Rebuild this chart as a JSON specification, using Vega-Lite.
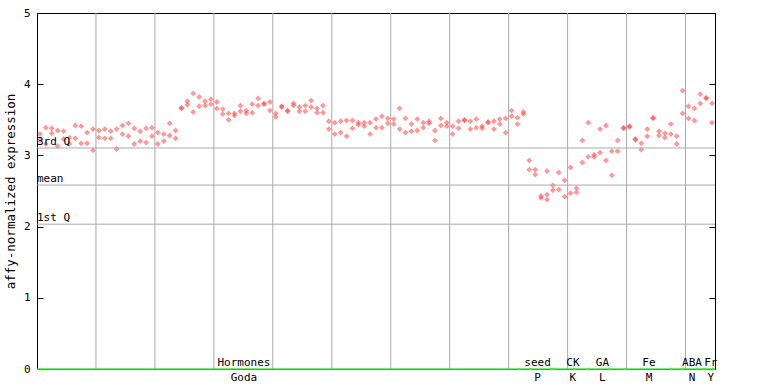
{
  "$schema": "https://vega.github.io/schema/vega-lite/v6.json",
  "width": 678,
  "height": 356,
  "autosize": "none",
  "padding": {"left": 37, "top": 13, "right": 53, "bottom": 15},
  "config": {
    "view": {"stroke": "black", "strokeWidth": 1},
    "font": "DejaVu Sans Mono",
    "axis": {"labelFont": "DejaVu Sans Mono", "labelFontSize": 11, "labelColor": "black", "titleFont": "DejaVu Sans Mono", "titleFontSize": 12.5, "titleFontWeight": "normal", "titleColor": "black", "domainColor": "black", "tickColor": "black"}
  },
  "datasets": {
    "vgrid": [{"g": 10}, {"g": 20}, {"g": 30}, {"g": 40}, {"g": 50}, {"g": 60}, {"g": 70}, {"g": 80}, {"g": 90}, {"g": 100}, {"g": 110}],
    "quart": [{"q": "3rd Q", "v": 3.104}, {"q": "mean", "v": 2.583}, {"q": "1st Q", "v": 2.034}],
    "groups": [
      {"g": "Hormones", "c": "Goda", "a": 0.4, "b": 81.9, "lx": 35.1},
      {"g": "seed", "c": "P", "a": 83.6, "b": 87.3, "lx": 84.9},
      {"g": "CK", "c": "K", "a": 87.6, "b": 91.2, "lx": 90.9},
      {"g": "GA", "c": "L", "a": 93.3, "b": 97.2, "lx": 95.9},
      {"g": "Fe", "c": "M", "a": 99.7, "b": 107.7, "lx": 103.8},
      {"g": "ABA", "c": "N", "a": 109.4, "b": 112.1, "lx": 111.1},
      {"g": "Fr", "c": "Y", "a": 113.1, "b": 114.8, "lx": 114.3}
    ],
    "baseline": [{"a": 0, "b": 115}],
    "pts": [
      {"s": 0.5, "v": 3.30}, {"s": 0.5, "v": 3.21},
      {"s": 1.5, "v": 3.39}, {"s": 1.5, "v": 3.16},
      {"s": 2.5, "v": 3.38}, {"s": 2.5, "v": 3.31},
      {"s": 3.5, "v": 3.35}, {"s": 3.5, "v": 3.13},
      {"s": 4.5, "v": 3.34}, {"s": 4.5, "v": 3.23},
      {"s": 5.5, "v": 3.25}, {"s": 5.5, "v": 3.16},
      {"s": 6.5, "v": 3.42}, {"s": 6.5, "v": 3.24},
      {"s": 7.5, "v": 3.41}, {"s": 7.5, "v": 3.17},
      {"s": 8.5, "v": 3.32}, {"s": 8.5, "v": 3.17},
      {"s": 9.5, "v": 3.37}, {"s": 9.5, "v": 3.07},
      {"s": 10.5, "v": 3.35}, {"s": 10.5, "v": 3.25},
      {"s": 11.5, "v": 3.37}, {"s": 11.5, "v": 3.24},
      {"s": 12.5, "v": 3.34}, {"s": 12.5, "v": 3.24},
      {"s": 13.5, "v": 3.37}, {"s": 13.5, "v": 3.09},
      {"s": 14.5, "v": 3.42}, {"s": 14.5, "v": 3.30},
      {"s": 15.5, "v": 3.45}, {"s": 15.5, "v": 3.27},
      {"s": 16.5, "v": 3.38}, {"s": 16.5, "v": 3.16},
      {"s": 17.5, "v": 3.34}, {"s": 17.5, "v": 3.20},
      {"s": 18.5, "v": 3.38}, {"s": 18.5, "v": 3.18},
      {"s": 19.5, "v": 3.39}, {"s": 19.5, "v": 3.27},
      {"s": 20.5, "v": 3.32}, {"s": 20.5, "v": 3.16},
      {"s": 21.5, "v": 3.30}, {"s": 21.5, "v": 3.20},
      {"s": 22.5, "v": 3.45}, {"s": 22.5, "v": 3.28},
      {"s": 23.5, "v": 3.35}, {"s": 23.5, "v": 3.24},
      {"s": 24.5, "v": 3.67}, {"s": 24.5, "v": 3.66},
      {"s": 25.5, "v": 3.76}, {"s": 25.5, "v": 3.71},
      {"s": 26.5, "v": 3.87}, {"s": 26.5, "v": 3.61},
      {"s": 27.5, "v": 3.82}, {"s": 27.5, "v": 3.69},
      {"s": 28.5, "v": 3.76}, {"s": 28.5, "v": 3.70},
      {"s": 29.5, "v": 3.79}, {"s": 29.5, "v": 3.72},
      {"s": 30.5, "v": 3.75}, {"s": 30.5, "v": 3.66},
      {"s": 31.5, "v": 3.65}, {"s": 31.5, "v": 3.58},
      {"s": 32.5, "v": 3.59}, {"s": 32.5, "v": 3.50},
      {"s": 33.5, "v": 3.59}, {"s": 33.5, "v": 3.56},
      {"s": 34.5, "v": 3.70}, {"s": 34.5, "v": 3.62},
      {"s": 35.5, "v": 3.63}, {"s": 35.5, "v": 3.59},
      {"s": 36.5, "v": 3.72}, {"s": 36.5, "v": 3.60},
      {"s": 37.5, "v": 3.80}, {"s": 37.5, "v": 3.70},
      {"s": 38.5, "v": 3.73}, {"s": 38.5, "v": 3.72},
      {"s": 39.5, "v": 3.75}, {"s": 39.5, "v": 3.63},
      {"s": 40.5, "v": 3.59}, {"s": 40.5, "v": 3.54},
      {"s": 41.5, "v": 3.69}, {"s": 41.5, "v": 3.68},
      {"s": 42.5, "v": 3.63}, {"s": 42.5, "v": 3.62},
      {"s": 43.5, "v": 3.73}, {"s": 43.5, "v": 3.70},
      {"s": 44.5, "v": 3.68}, {"s": 44.5, "v": 3.62},
      {"s": 45.5, "v": 3.70}, {"s": 45.5, "v": 3.62},
      {"s": 46.5, "v": 3.77}, {"s": 46.5, "v": 3.68},
      {"s": 47.5, "v": 3.66}, {"s": 47.5, "v": 3.60},
      {"s": 48.5, "v": 3.70}, {"s": 48.5, "v": 3.60},
      {"s": 49.5, "v": 3.48}, {"s": 49.5, "v": 3.37},
      {"s": 50.5, "v": 3.46}, {"s": 50.5, "v": 3.30},
      {"s": 51.5, "v": 3.48}, {"s": 51.5, "v": 3.32},
      {"s": 52.5, "v": 3.49}, {"s": 52.5, "v": 3.27},
      {"s": 53.5, "v": 3.49}, {"s": 53.5, "v": 3.38},
      {"s": 54.5, "v": 3.46}, {"s": 54.5, "v": 3.43},
      {"s": 55.5, "v": 3.46}, {"s": 55.5, "v": 3.41},
      {"s": 56.5, "v": 3.46}, {"s": 56.5, "v": 3.30},
      {"s": 57.5, "v": 3.51}, {"s": 57.5, "v": 3.39},
      {"s": 58.5, "v": 3.55}, {"s": 58.5, "v": 3.39},
      {"s": 59.5, "v": 3.52}, {"s": 59.5, "v": 3.45},
      {"s": 60.5, "v": 3.51}, {"s": 60.5, "v": 3.44},
      {"s": 61.5, "v": 3.66}, {"s": 61.5, "v": 3.37},
      {"s": 62.5, "v": 3.52}, {"s": 62.5, "v": 3.32},
      {"s": 63.5, "v": 3.44}, {"s": 63.5, "v": 3.34},
      {"s": 64.5, "v": 3.51}, {"s": 64.5, "v": 3.35},
      {"s": 65.5, "v": 3.46}, {"s": 65.5, "v": 3.39},
      {"s": 66.5, "v": 3.48}, {"s": 66.5, "v": 3.45},
      {"s": 67.5, "v": 3.35}, {"s": 67.5, "v": 3.21},
      {"s": 68.5, "v": 3.52}, {"s": 68.5, "v": 3.42},
      {"s": 69.5, "v": 3.46}, {"s": 69.5, "v": 3.41},
      {"s": 70.5, "v": 3.41}, {"s": 70.5, "v": 3.30},
      {"s": 71.5, "v": 3.48}, {"s": 71.5, "v": 3.38},
      {"s": 72.5, "v": 3.50}, {"s": 72.5, "v": 3.49},
      {"s": 73.5, "v": 3.48}, {"s": 73.5, "v": 3.37},
      {"s": 74.5, "v": 3.51}, {"s": 74.5, "v": 3.39},
      {"s": 75.5, "v": 3.41}, {"s": 75.5, "v": 3.38},
      {"s": 76.5, "v": 3.47}, {"s": 76.5, "v": 3.46},
      {"s": 77.5, "v": 3.48}, {"s": 77.5, "v": 3.37},
      {"s": 78.5, "v": 3.51}, {"s": 78.5, "v": 3.44},
      {"s": 79.5, "v": 3.52}, {"s": 79.5, "v": 3.32},
      {"s": 80.5, "v": 3.63}, {"s": 80.5, "v": 3.55},
      {"s": 81.5, "v": 3.53}, {"s": 81.5, "v": 3.44},
      {"s": 82.5, "v": 3.61}, {"s": 82.5, "v": 3.58},
      {"s": 83.5, "v": 2.93}, {"s": 83.5, "v": 2.80},
      {"s": 84.5, "v": 2.80}, {"s": 84.5, "v": 2.73},
      {"s": 85.5, "v": 2.43}, {"s": 85.5, "v": 2.40},
      {"s": 86.5, "v": 2.78}, {"s": 86.5, "v": 2.45}, {"s": 86.5, "v": 2.38},
      {"s": 87.5, "v": 2.58}, {"s": 87.5, "v": 2.51},
      {"s": 88.5, "v": 2.76}, {"s": 88.5, "v": 2.52},
      {"s": 89.5, "v": 2.65}, {"s": 89.5, "v": 2.42},
      {"s": 90.5, "v": 2.83}, {"s": 90.5, "v": 2.47},
      {"s": 91.5, "v": 2.54}, {"s": 91.5, "v": 2.48},
      {"s": 92.5, "v": 3.21}, {"s": 92.5, "v": 2.90},
      {"s": 93.5, "v": 3.46}, {"s": 93.5, "v": 2.98},
      {"s": 94.5, "v": 3.01}, {"s": 94.5, "v": 2.98},
      {"s": 95.5, "v": 3.37}, {"s": 95.5, "v": 3.04},
      {"s": 96.5, "v": 3.42}, {"s": 96.5, "v": 2.93},
      {"s": 97.5, "v": 3.06}, {"s": 97.5, "v": 2.72},
      {"s": 98.5, "v": 3.21}, {"s": 98.5, "v": 3.06},
      {"s": 99.5, "v": 3.39}, {"s": 99.5, "v": 3.38},
      {"s": 100.5, "v": 3.41}, {"s": 100.5, "v": 3.40},
      {"s": 101.5, "v": 3.23}, {"s": 101.5, "v": 3.22},
      {"s": 102.5, "v": 3.17}, {"s": 102.5, "v": 3.08},
      {"s": 103.5, "v": 3.37}, {"s": 103.5, "v": 3.27},
      {"s": 104.5, "v": 3.53}, {"s": 104.5, "v": 3.52},
      {"s": 105.5, "v": 3.34}, {"s": 105.5, "v": 3.28},
      {"s": 106.5, "v": 3.31}, {"s": 106.5, "v": 3.25},
      {"s": 107.5, "v": 3.44}, {"s": 107.5, "v": 3.30},
      {"s": 108.5, "v": 3.27}, {"s": 108.5, "v": 3.16},
      {"s": 109.5, "v": 3.91}, {"s": 109.5, "v": 3.59},
      {"s": 110.5, "v": 3.69}, {"s": 110.5, "v": 3.52},
      {"s": 111.5, "v": 3.66}, {"s": 111.5, "v": 3.49},
      {"s": 112.5, "v": 3.86}, {"s": 112.5, "v": 3.73},
      {"s": 113.5, "v": 3.81}, {"s": 113.5, "v": 3.80},
      {"s": 114.5, "v": 3.73}, {"s": 114.5, "v": 3.46}
    ]
  },
  "layer": [
    {
      "data": {"name": "vgrid"},
      "mark": {"type": "rule", "color": "#aaaaaa", "strokeWidth": 1},
      "encoding": {
        "x": {"field": "g", "type": "quantitative", "scale": {"domain": [0, 115], "nice": false, "zero": false}, "axis": null}
      }
    },
    {
      "data": {"name": "pts"},
      "mark": {"type": "point", "shape": "diamond", "filled": true, "size": 34, "color": "#ff4444", "opacity": 0.55},
      "encoding": {
        "x": {"field": "s", "type": "quantitative", "axis": null},
        "y": {"field": "v", "type": "quantitative", "scale": {"domain": [0, 5], "nice": false, "zero": false},
          "axis": {"orient": "left", "title": "affy-normalized expression", "values": [0, 1, 2, 3, 4, 5], "tickSize": -6, "labelPadding": 13, "titlePadding": 6, "grid": false, "format": "d"}}
      }
    },
    {
      "data": {"name": "quart"},
      "mark": {"type": "rule", "color": "#aaaaaa", "strokeWidth": 1},
      "encoding": {
        "y": {"field": "v", "type": "quantitative",
          "axis": {"orient": "right", "labels": false, "title": null, "values": [0, 1, 2, 3, 4, 5], "tickSize": -6, "grid": false, "domainColor": "black"}}
      }
    },
    {
      "data": {"name": "quart"},
      "mark": {"type": "text", "align": "left", "baseline": "bottom", "dy": -1, "fontSize": 11, "font": "DejaVu Sans Mono", "color": "black"},
      "encoding": {
        "x": {"datum": 0, "type": "quantitative", "axis": null},
        "y": {"field": "v", "type": "quantitative", "axis": null},
        "text": {"field": "q"}
      }
    },
    {
      "data": {"name": "baseline"},
      "mark": {"type": "rule", "color": "#40f040", "strokeWidth": 1.5},
      "encoding": {
        "x": {"field": "a", "type": "quantitative", "axis": null},
        "x2": {"field": "b"},
        "y": {"datum": 0, "type": "quantitative", "axis": null}
      }
    },
    {
      "data": {"name": "groups"},
      "mark": {"type": "point", "shape": "triangle-left", "filled": true, "size": 14, "color": "#40f040", "opacity": 1},
      "encoding": {
        "x": {"field": "a", "type": "quantitative", "axis": null},
        "y": {"datum": 0, "type": "quantitative", "axis": null}
      }
    },
    {
      "data": {"name": "groups"},
      "mark": {"type": "point", "shape": "triangle-right", "filled": true, "size": 14, "color": "#40f040", "opacity": 1},
      "encoding": {
        "x": {"field": "b", "type": "quantitative", "axis": null},
        "y": {"datum": 0, "type": "quantitative", "axis": null}
      }
    },
    {
      "data": {"name": "groups"},
      "mark": {"type": "text", "align": "center", "baseline": "alphabetic", "dy": -3, "fontSize": 11, "font": "DejaVu Sans Mono", "color": "black"},
      "encoding": {
        "x": {"field": "lx", "type": "quantitative", "axis": null},
        "y": {"datum": 0, "type": "quantitative", "axis": null},
        "text": {"field": "g"}
      }
    },
    {
      "data": {"name": "groups"},
      "mark": {"type": "text", "align": "center", "baseline": "top", "dy": 3, "fontSize": 11, "font": "DejaVu Sans Mono", "color": "black"},
      "encoding": {
        "x": {"field": "lx", "type": "quantitative", "axis": null},
        "y": {"datum": 0, "type": "quantitative", "axis": null},
        "text": {"field": "c"}
      }
    }
  ],
  "resolve": {"axis": {"y": "independent"}}
}
